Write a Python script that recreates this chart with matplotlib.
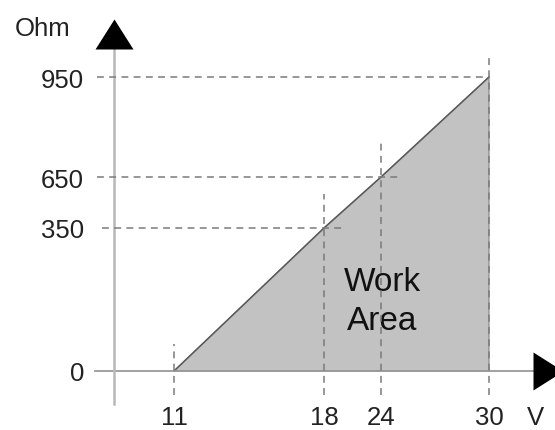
import numpy as np
import matplotlib
matplotlib.use("Agg")
import matplotlib.pyplot as plt
from matplotlib.path import Path

# ---------------- data ----------------
x_ticks = [11, 18, 24, 30]
x_tick_labels = ["11", "18", "24", "30"]
y_ticks = [0, 350, 650, 950]
y_tick_labels = ["0", "350", "650", "950"]
area_volts = [11, 18, 24, 30, 30]
area_ohms = [0, 350, 650, 950, 0]
x_unit = "V"
y_unit = "Ohm"
area_label = "Work\nArea"

# ---------------- schematic (non-linear) axis layout ----------------
W, H = 555, 431
X_ANCH_V = [0, 11, 18, 24, 30]
X_ANCH_P = [114, 174, 324, 381, 489]          # px from left
Y_ANCH_V = [0, 350, 650, 950]
Y_ANCH_P = [H - 372, H - 229, H - 178, H - 78]  # px from bottom


def pw(v, xs, ys):
    v = np.asarray(v, dtype=float)
    xs = np.asarray(xs, dtype=float)
    ys = np.asarray(ys, dtype=float)
    out = np.interp(v, xs, ys)
    lo = ys[0] + (v - xs[0]) * (ys[1] - ys[0]) / (xs[1] - xs[0])
    hi = ys[-1] + (v - xs[-1]) * (ys[-1] - ys[-2]) / (xs[-1] - xs[-2])
    out = np.where(v < xs[0], lo, out)
    out = np.where(v > xs[-1], hi, out)
    return out


fx = lambda v: pw(v, X_ANCH_V, X_ANCH_P)
fxi = lambda p: pw(p, X_ANCH_P, X_ANCH_V)
fy = lambda v: pw(v, Y_ANCH_V, Y_ANCH_P)
fyi = lambda p: pw(p, Y_ANCH_P, Y_ANCH_V)

# pixel helpers (x from left, y from top)
X = lambda v: float(fx(v))
XI = lambda p: float(fxi(p))
Y = lambda v: H - float(fy(v))
YI = lambda p: float(fyi(H - p))

plt.rcParams["font.family"] = ["Liberation Sans", "DejaVu Sans"]
TXT = "#222222"

fig = plt.figure(figsize=(W / 100, H / 100), dpi=100)
ax = fig.add_axes([0, 0, 1, 1])
ax.set_xscale("function", functions=(fx, fxi))
ax.set_yscale("function", functions=(fy, fyi))
ax.set_xlim(XI(0), XI(W))
ax.set_ylim(YI(H), YI(0))
ax.axis("off")

# work area
ax.fill(area_volts, area_ohms, facecolor="#c2c2c2", edgecolor="#808080",
        linewidth=0.8, zorder=1)
ax.plot(area_volts[:4], area_ohms[:4], color="#5a5a5a", lw=1.1, zorder=2)

# axes lines
ax.plot([XI(95), XI(535)], [0, 0], color="#9a9a9a", lw=1.3, zorder=3)
ax.plot([0, 0], [YI(405), YI(50)], color="#b8b8b8", lw=1.8, zorder=3)

# arrow heads
up = Path([(-1, 0), (1, 0), (0, 1.58), (-1, 0)],
          [Path.MOVETO, Path.LINETO, Path.LINETO, Path.CLOSEPOLY])
right = Path([(0, -1), (0, 1), (1.58, 0), (0, -1)],
             [Path.MOVETO, Path.LINETO, Path.LINETO, Path.CLOSEPOLY])
ax.plot([0], [YI(50)], marker=up, ms=43.2, color="black", mew=0, zorder=5)
ax.plot([XI(533)], [0], marker=right, ms=43.2, color="black", mew=0, zorder=5)

# dashed guides
gkw = dict(color="#7a7a7a", lw=1.1, dashes=(4.5, 3.5), zorder=4)
h_over = [0, 19, 19, 0]       # px beyond the matching volt value
v_over = [27, 34, 38, 20]     # px above the matching ohm value
for xv, yv, ho, vo in zip(x_ticks, y_ticks, h_over, v_over):
    if yv != 0:
        x0 = XI(97 if yv != 350 else 102)
        ax.plot([x0, XI(X(xv) + ho)], [yv, yv], **gkw)
    ax.plot([xv, xv], [YI(396), YI(Y(yv) - vo)], **gkw)

# tick labels
fs = 18.5
for xv, lab in zip(x_ticks, x_tick_labels):
    ax.text(xv, YI(425.5), lab, ha="center", va="baseline", fontsize=fs, color=TXT)
for yv, lab in zip(y_ticks, y_tick_labels):
    ax.text(XI(84), YI(Y(yv) + 9.5), lab, ha="right", va="baseline",
            fontsize=fs, color=TXT)
ax.text(XI(535), YI(425.5), x_unit, ha="center", va="baseline", fontsize=fs, color=TXT)
ax.text(XI(43), YI(36), y_unit, ha="center", va="baseline", fontsize=fs, color=TXT)

# area label
ax.text(XI(382), YI(330), area_label, ha="center", va="baseline",
        fontsize=24, color="#111111", linespacing=1.32,
        multialignment="center")

fig.savefig("out.png", dpi=100)
